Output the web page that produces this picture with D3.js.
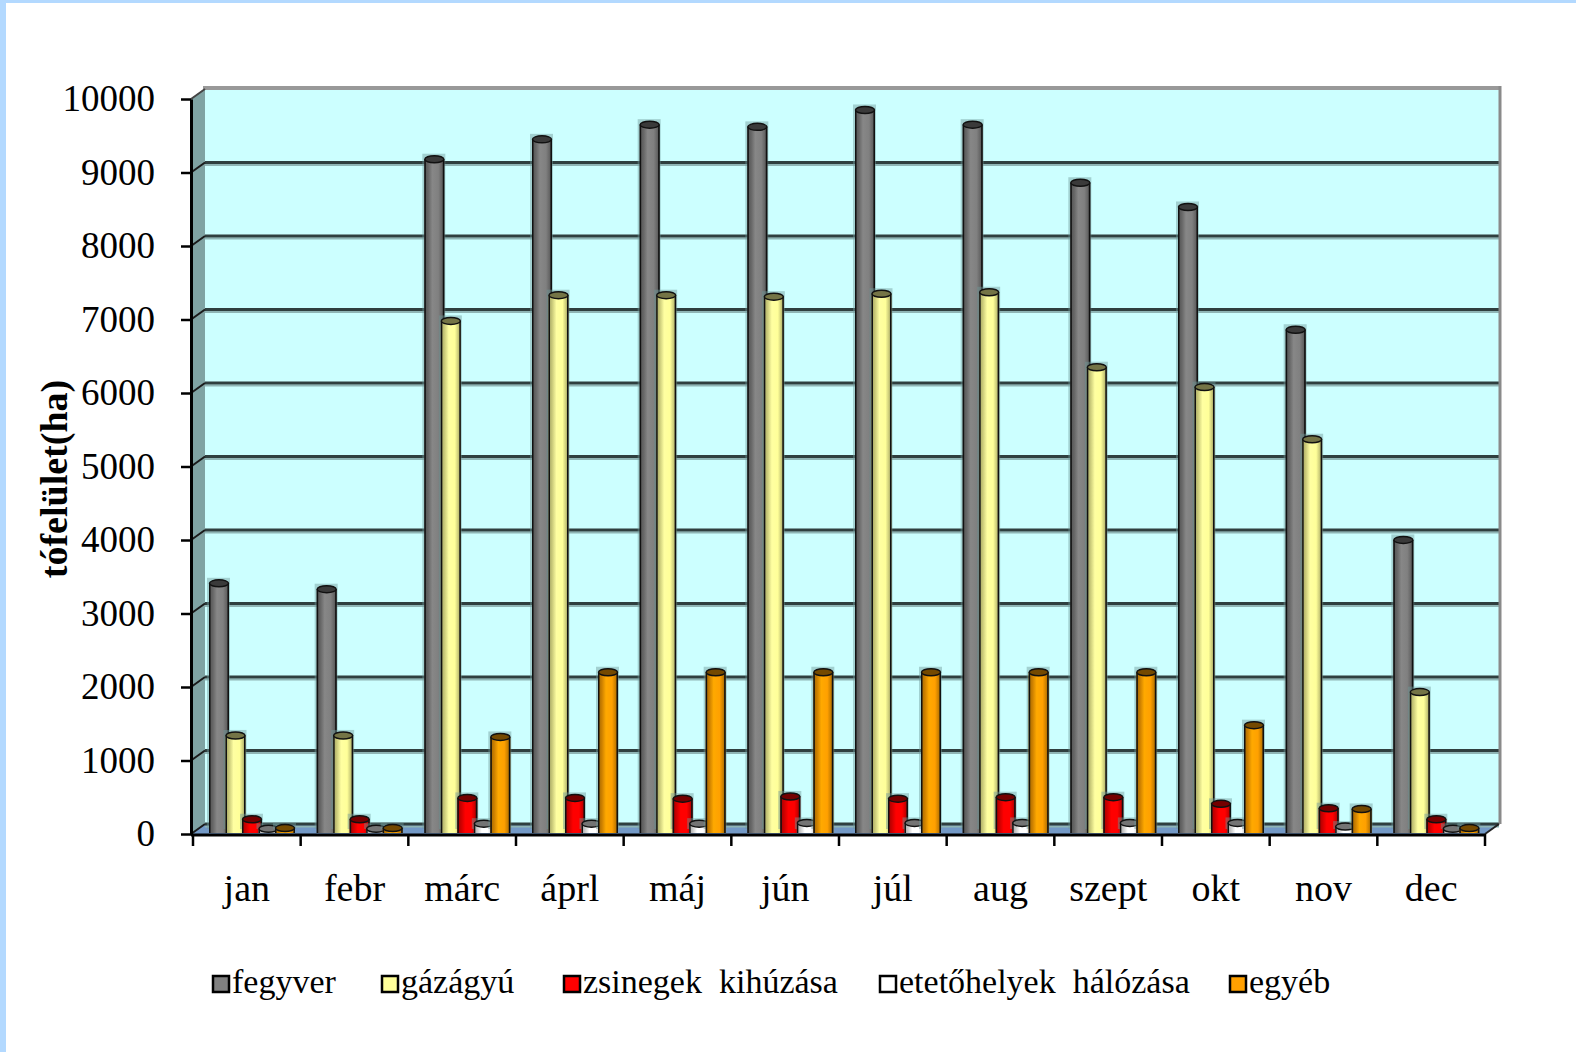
<!DOCTYPE html>
<html>
<head>
<meta charset="utf-8">
<script src="https://cdn.jsdelivr.net/npm/d3@7"></script>
<style>
  body { margin: 0; background: #fff; }
  svg { display: block; }
  text { font-family: "Liberation Serif", "Times New Roman", serif; fill: #000; }
</style>
</head>
<body>
<div id="chart"></div>
<script>
// havi adatok
const months = ["jan", "febr", "márc", "áprl", "máj", "jún", "júl", "aug", "szept", "okt", "nov", "dec"];
const seriesNames = ["fegyver", "gázágyú", "zsinegek  kihúzása", "etetőhelyek  hálózása", "egyéb"];
const fegyver = [3370, 3290, 9140, 9410, 9610, 9580, 9810, 9610, 8820, 8490, 6820, 3960];
const gazagyu = [1300, 1300, 6940, 7290, 7290, 7270, 7310, 7330, 6310, 6040, 5330, 1890];
const zsinegek = [160, 160, 450, 450, 440, 470, 440, 460, 460, 370, 310, 160];
const etetohelyek = [30, 30, 100, 100, 100, 110, 110, 110, 110, 110, 60, 30];
const egyeb = [40, 40, 1280, 2160, 2160, 2160, 2160, 2160, 2160, 1440, 300, 40];
const yTicks = [0, 1000, 2000, 3000, 4000, 5000, 6000, 7000, 8000, 9000, 10000];
const colors = ["#808080", "#ffff99", "#ff0000", "#ffffff", "#ffa000"];

const allSeries = [fegyver, gazagyu, zsinegek, etetohelyek, egyeb];

const W = 1576, H = 1052;
const svg = d3.select("#chart").append("svg")
  .attr("width", W)
  .attr("height", H);

// kék keret bal és felső szélen
svg.append("rect").attr("x", 0).attr("y", 0).attr("width", W).attr("height", 3).attr("fill", "#b3d9ff");
svg.append("rect").attr("x", 0).attr("y", 0).attr("width", 6).attr("height", H).attr("fill", "#b3d9ff");

const x0 = 191, x1 = 1485, dx = 14, dy = -10;
const y = d3.scaleLinear().domain([0, 10000]).range([834, 99]);
const x = d3.scaleBand().domain(months).range([193, 1485]).padding(0);
const inner = d3.scaleLinear().domain([0, 4]).range([16, 82]);
const barW = 20;

// hátsó fal
svg.append("rect")
  .attr("x", x0 + dx).attr("y", y(10000) + dy)
  .attr("width", x1 - x0).attr("height", y(0) - y(10000))
  .attr("fill", "#ccffff");

// bal oldalfal
svg.append("polygon")
  .attr("points", [[x0, y(0)], [x0, y(10000)], [x0 + dx, y(10000) + dy], [x0 + dx, y(0) + dy]].join(" "))
  .attr("fill", "#7fa3a3");

// padló
svg.append("polygon")
  .attr("points", [[x0, y(0)], [x1, y(0)], [x1 + dx, y(0) + dy], [x0 + dx, y(0) + dy]].join(" "))
  .attr("fill", "#7399c6");

// rácsvonalak
const grid = svg.append("g");
yTicks.forEach(function(v) {
  if (v === 10000) return;
  grid.append("line")
    .attr("x1", x0 + dx).attr("x2", x1 + dx)
    .attr("y1", y(v) + dy + 2.5).attr("y2", y(v) + dy + 2.5)
    .attr("stroke", "#8fb5b5").attr("stroke-width", 2);
  grid.append("line")
    .attr("x1", x0 + dx).attr("x2", x1 + dx)
    .attr("y1", y(v) + dy).attr("y2", y(v) + dy)
    .attr("stroke", "#2f3f3f").attr("stroke-width", 3);
  grid.append("line")
    .attr("x1", x0).attr("x2", x0 + dx)
    .attr("y1", y(v)).attr("y2", y(v) + dy)
    .attr("stroke", "#1a1a1a").attr("stroke-width", 2);
});
// felső és jobb szél
svg.append("line")
  .attr("x1", x0 + dx - 2).attr("x2", x1 + dx + 2)
  .attr("y1", y(10000) + dy - 1).attr("y2", y(10000) + dy - 1)
  .attr("stroke", "#999").attr("stroke-width", 4);
svg.append("line")
  .attr("x1", x0).attr("x2", x0 + dx)
  .attr("y1", y(10000)).attr("y2", y(10000) + dy)
  .attr("stroke", "#444").attr("stroke-width", 2);
svg.append("line")
  .attr("x1", x1 + dx + 1).attr("x2", x1 + dx + 1)
  .attr("y1", y(10000) + dy - 3).attr("y2", y(0) + dy)
  .attr("stroke", "#8a8a8a").attr("stroke-width", 3);

// hengerek színátmenetei
const defs = svg.append("defs");
colors.forEach(function(c, i) {
  const base = d3.color(c);
  const g = defs.append("linearGradient").attr("id", "grad" + i)
    .attr("x1", "0%").attr("x2", "100%").attr("y1", "0%").attr("y2", "0%");
  const stops = [
    [0, base.darker(1.3)],
    [0.2, base.darker(0.6)],
    [0.4, base.brighter(0.15)],
    [0.7, base],
    [0.88, base.darker(0.7)],
    [1, base.darker(1.8)]
  ];
  stops.forEach(function(s) {
    g.append("stop").attr("offset", s[0]).attr("stop-color", s[1].formatHex());
  });
});

const barBase = y(0) - 3;
const bars = svg.append("g");
months.forEach(function(m, mi) {
  allSeries.forEach(function(s, si) {
    const v = s[mi];
    const bx = x(m) + inner(si);
    const top = y(v) - 3;
    const ry = 3.5;
    const g = bars.append("g");
    // árnyék
    g.append("rect")
      .attr("x", bx - 2).attr("y", top - ry - 2)
      .attr("width", barW + 3).attr("height", barBase - top + ry)
      .attr("fill", "#6f9999").attr("opacity", 0.45);
    g.append("rect")
      .attr("x", bx).attr("y", top)
      .attr("width", barW).attr("height", Math.max(0, barBase - top + 2))
      .attr("fill", "url(#grad" + si + ")");
    g.append("line")
      .attr("x1", bx + 0.75).attr("x2", bx + 0.75)
      .attr("y1", top).attr("y2", barBase + 2)
      .attr("stroke", "#111").attr("stroke-width", 1.5);
    g.append("line")
      .attr("x1", bx + barW - 0.75).attr("x2", bx + barW - 0.75)
      .attr("y1", top).attr("y2", barBase + 2)
      .attr("stroke", "#111").attr("stroke-width", 1.5);
    g.append("ellipse")
      .attr("cx", bx + barW / 2).attr("cy", top)
      .attr("rx", barW / 2 - 0.5).attr("ry", ry)
      .attr("fill", d3.color(colors[si]).darker(2.2).formatHex())
      .attr("stroke", "#111").attr("stroke-width", 1.5);
  });
});

// tengelyek
const yAxis = d3.axisLeft(y)
  .tickValues(yTicks)
  .tickSize(10)
  .tickSizeOuter(0)
  .tickPadding(26)
  .tickFormat(d3.format("d"));
const gy = svg.append("g").attr("transform", "translate(" + x0 + ",0)").call(yAxis);
gy.select(".domain").attr("stroke", "#000").attr("stroke-width", 3);
gy.selectAll(".tick line").attr("stroke", "#000").attr("stroke-width", 2.5);
gy.selectAll(".tick text")
  .style("font-family", "'Liberation Serif', serif")
  .style("font-size", "37px")
  .attr("fill", "#111");

const xAxis = d3.axisBottom(x).tickSize(0).tickPadding(40);
const gx = svg.append("g").attr("transform", "translate(0," + y(0) + ")").call(xAxis);
gx.select(".domain").remove();
gx.selectAll(".tick text")
  .style("font-family", "'Liberation Serif', serif")
  .style("font-size", "38px")
  .attr("fill", "#111");

svg.append("line")
  .attr("x1", x0).attr("x2", x1)
  .attr("y1", y(0) + 1).attr("y2", y(0) + 1)
  .attr("stroke", "#000").attr("stroke-width", 3);
svg.append("line")
  .attr("x1", x1).attr("x2", x1 + dx)
  .attr("y1", y(0)).attr("y2", y(0) + dy)
  .attr("stroke", "#222").attr("stroke-width", 2);
svg.append("g").selectAll("line")
  .data(months.map(function(m) { return x(m); }).concat([x1]))
  .enter()
  .append("line")
  .attr("x1", function(d) { return d; })
  .attr("x2", function(d) { return d; })
  .attr("y1", y(0))
  .attr("y2", y(0) + 12)
  .attr("stroke", "#000")
  .attr("stroke-width", 2.5);

// tengelycím
svg.append("text")
  .attr("transform", "translate(54,479) rotate(-90)")
  .attr("text-anchor", "middle")
  .attr("dominant-baseline", "central")
  .style("font-size", "38px")
  .style("font-weight", "bold")
  .text("tófelület(ha)");

// jelmagyarázat
const legendX = [213, 382, 564, 880, 1230];
const legend = svg.append("g").selectAll("g")
  .data(seriesNames)
  .enter()
  .append("g")
  .attr("transform", function(d, i) { return "translate(" + legendX[i] + ",976)"; });
legend.append("rect")
  .attr("width", 16).attr("height", 16)
  .attr("fill", function(d, i) { return colors[i]; })
  .attr("stroke", "#000").attr("stroke-width", 2.5);
legend.append("text")
  .attr("x", 19).attr("y", 17)
  .style("font-size", "34px")
  .style("white-space", "pre")
  .attr("xml:space", "preserve")
  .text(function(d) { return d; });
</script>
</body>
</html>
